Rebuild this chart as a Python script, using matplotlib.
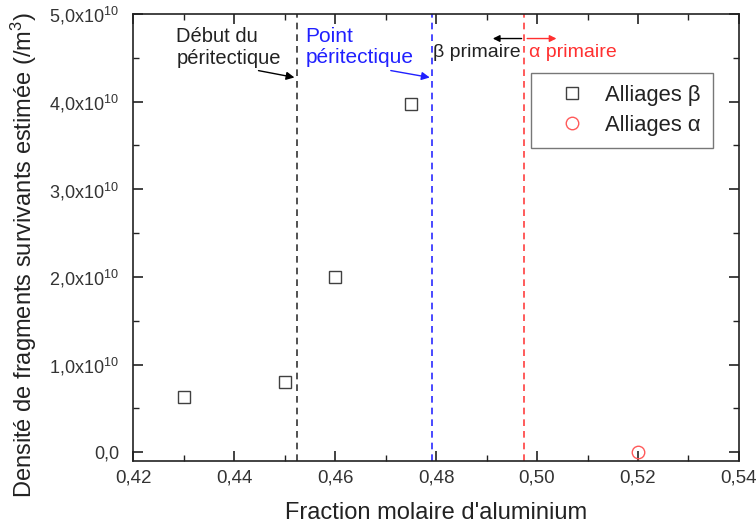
import matplotlib
matplotlib.use("Agg")
import matplotlib.pyplot as plt
from matplotlib.ticker import FuncFormatter, MultipleLocator

plt.rcParams['font.family'] = ['Liberation Sans', 'DejaVu Sans']
plt.rcParams['mathtext.fontset'] = 'custom'
plt.rcParams['mathtext.rm'] = 'Liberation Sans'
plt.rcParams['mathtext.it'] = 'Liberation Sans:italic'

beta_x = [0.43, 0.45, 0.46, 0.475]
beta_y = [0.63e10, 0.80e10, 2.0e10, 3.97e10]
alpha_x = [0.52]
alpha_y = [0.0]
x_debut = 0.4525
x_point = 0.4793
x_alpha = 0.4975

fig = plt.figure(figsize=(7.56, 5.28), dpi=100)
ax = fig.add_axes([0.176, 0.127, 0.8015, 0.8465])

ax.plot(beta_x, beta_y, linestyle='none', marker='s', markersize=8,
        markerfacecolor='none', markeredgecolor='#404040', markeredgewidth=1.0,
        label='Alliages β')
ax.plot(alpha_x, alpha_y, linestyle='none', marker='o', markersize=9,
        markerfacecolor='none', markeredgecolor='#ff5a5a', markeredgewidth=1.0,
        label='Alliages α')

ax.axvline(x_debut, color='#333333', linestyle=(0, (4, 3)), linewidth=1.2)
ax.axvline(x_point, color='#2a2aff', linestyle=(0, (4, 3)), linewidth=1.2)
ax.axvline(x_alpha, color='#ff4040', linestyle=(0, (4, 3)), linewidth=1.2)

ax.set_xlim(0.42, 0.54)
ax.set_ylim(-0.1e10, 5.0e10)
ax.xaxis.set_major_locator(MultipleLocator(0.02))
ax.xaxis.set_minor_locator(MultipleLocator(0.01))
ax.yaxis.set_major_locator(MultipleLocator(1e10))
ax.yaxis.set_minor_locator(MultipleLocator(0.5e10))

def xfmt(v, p):
    return f"{v:.2f}".replace('.', ',')

def yfmt(v, p):
    if abs(v) < 1e-3:
        return "0,0"
    return f"{v/1e10:.1f}".replace('.', ',') + r"x10$^{10}$"

ax.xaxis.set_major_formatter(FuncFormatter(xfmt))
ax.yaxis.set_major_formatter(FuncFormatter(yfmt))
ax.tick_params(which='both', direction='in', top=True, right=True,
               labelsize=13.5, colors='#222222', labelcolor='#333333')
ax.tick_params(axis='y', labelsize=13, pad=10)
ax.tick_params(axis='x', pad=6)
ax.tick_params(which='major', length=7, width=1.2)
ax.tick_params(which='minor', length=4, width=1.0)
for s in ax.spines.values():
    s.set_linewidth(1.2)
    s.set_color('#222222')

ax.set_xlabel("Fraction molaire d'aluminium", fontsize=17, color='#222222', labelpad=11)
ax.set_ylabel("Densité de fragments survivants estimée (/m$^3$)", fontsize=17,
              color='#222222')
ax.yaxis.set_label_coords(-0.155, 0.46)

# annotations
ax.text(0.4286, 4.85e10, "Début du\npéritectique", fontsize=14.5, color='#222222',
        va='top', ha='left', linespacing=1.2)
ax.annotate("", xy=(x_debut, 4.27e10), xytext=(0.4443, 4.36e10),
            arrowprops=dict(arrowstyle='-|>', color='black', lw=1, mutation_scale=12))
ax.text(0.4541, 4.85e10, "Point\npéritectique", fontsize=15, color='#2020ff',
        va='top', ha='left', linespacing=1.15)
ax.annotate("", xy=(x_point, 4.27e10), xytext=(0.4705, 4.36e10),
            arrowprops=dict(arrowstyle='-|>', color='#2020ff', lw=1, mutation_scale=12))
ax.text(0.4795, 4.56e10, "β primaire", fontsize=14, color='#222222',
        va='center', ha='left')
ax.text(0.4985, 4.56e10, "α primaire", fontsize=14, color='#ff3030',
        va='center', ha='left')
ax.annotate("", xy=(0.4907, 4.72e10), xytext=(0.4975, 4.72e10),
            arrowprops=dict(arrowstyle='-|>', color='black', lw=1, mutation_scale=10))
ax.annotate("", xy=(0.5044, 4.72e10), xytext=(0.4975, 4.72e10),
            arrowprops=dict(arrowstyle='-|>', color='#ff3030', lw=1, mutation_scale=10))

leg = ax.legend(loc='upper right', bbox_to_anchor=(0.957, 0.868), borderaxespad=0,
                fontsize=15.8, frameon=True, fancybox=False, edgecolor='#555555',
                borderpad=0.55, handletextpad=0.15, labelspacing=0.4, markerfirst=True,
                handlelength=2.7)
leg.get_frame().set_linewidth(1.0)
for t in leg.get_texts():
    t.set_color('#222222')

fig.savefig("out.png", dpi=100)
